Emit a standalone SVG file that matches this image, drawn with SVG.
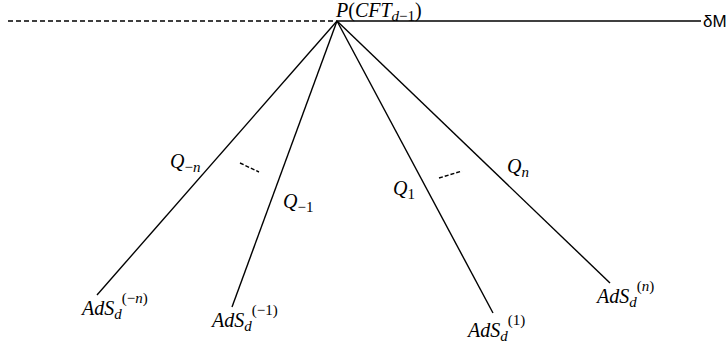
<svg xmlns="http://www.w3.org/2000/svg" width="727" height="344" viewBox="0 0 727 344">
<style>
.ln{stroke:#000;stroke-width:1.4;fill:none}
.ds{stroke:#000;stroke-width:1.4;fill:none;stroke-dasharray:5 3}
.sm{stroke:#000;stroke-width:1.4;fill:none;stroke-dasharray:4 2}
.m{font-family:"Liberation Serif","DejaVu Serif",serif;font-style:italic;font-size:20px;fill:#000}
.s{font-size:15px}
.up{font-style:normal}
.t{font-family:"Liberation Sans","DejaVu Sans",sans-serif;font-size:17px;fill:#000}
</style>
<rect width="727" height="344" fill="#fff"/>
<g id="connectors">
<line class="ds" x1="8" y1="21" x2="337" y2="21"/>
<line class="ln" x1="337" y1="21" x2="701" y2="21"/>
<line class="ln" x1="337" y1="21" x2="97" y2="295"/>
<line class="ln" x1="337" y1="21" x2="232" y2="307"/>
<line class="ln" x1="337" y1="21" x2="493" y2="313"/>
<line class="ln" x1="337" y1="21" x2="610" y2="283"/>
<line class="sm" x1="240" y1="163" x2="259" y2="172"/>
<line class="sm" x1="439" y1="178" x2="462" y2="171"/>
</g>
<g id="apex"><text class="m" x="336" y="17">P<tspan class="up">(</tspan>CFT<tspan class="s" dy="4">d<tspan class="up">−1</tspan></tspan><tspan class="up" dy="-4">)</tspan></text></g>
<g id="boundary"><text class="t" x="703" y="27">δM</text></g>
<g id="q-n"><text class="m" x="170" y="168">Q<tspan class="s" dy="4"><tspan class="up">−</tspan>n</tspan></text></g>
<g id="q-1"><text class="m" x="283" y="208">Q<tspan class="s up" dy="4">−1</tspan></text></g>
<g id="q1"><text class="m" x="393" y="195">Q<tspan class="s up" dy="4">1</tspan></text></g>
<g id="qn"><text class="m" x="507" y="173">Q<tspan class="s" dy="4">n</tspan></text></g>
<g id="ads-n"><text class="m" x="82" y="315">AdS<tspan class="s" dy="4">d</tspan><tspan class="s" dy="-16"><tspan class="up">(−</tspan>n<tspan class="up">)</tspan></tspan></text></g>
<g id="ads-1"><text class="m" x="212" y="327">AdS<tspan class="s" dy="4">d</tspan><tspan class="s up" dy="-16">(−1)</tspan></text></g>
<g id="ads1"><text class="m" x="468" y="337">AdS<tspan class="s" dy="4">d</tspan><tspan class="s up" dy="-16">(1)</tspan></text></g>
<g id="adsn"><text class="m" x="597" y="303">AdS<tspan class="s" dy="4">d</tspan><tspan class="s" dy="-16"><tspan class="up">(</tspan>n<tspan class="up">)</tspan></tspan></text></g>
</svg>
